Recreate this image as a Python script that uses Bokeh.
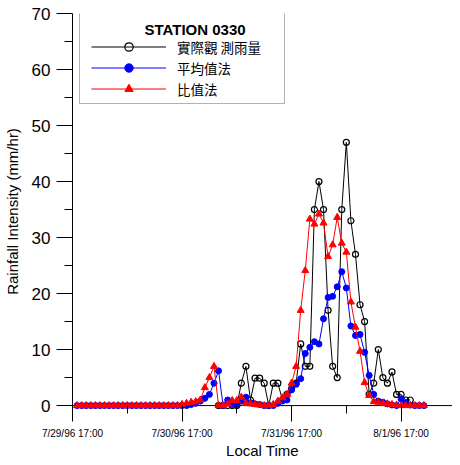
from bokeh.plotting import figure
from bokeh.models import (ColumnDataSource, Range1d, FixedTicker, Legend, LegendItem,
                          BoxAnnotation, Label, Span)
from bokeh.embed import file_html
from bokeh.resources import INLINE

# ---- data (hours after 7/29/96 17:00) ----
hours = list(range(1, 78))
ratio_method = [0]*23 + [
    0.2, 0.4, 0.6, 0.7, 1.0, 3.2, 5.0, 7.0, 0, 0,
    0.3, 0.9, 0.9, 1.5, 0.4, 0.3, 0.2, 0.1, 0, 0,
    0.2, 0.8, 1.4, 2.0, 4.0, 7.0, 17.0, 24.1, 33.3, 32.4,
    34.2, 32.6, 26.6, 28.7, 33.6, 29.0, 27.4, 18.5, 14.0, 9.7,
    4.1, 1.8, 0.7, 0.6, 0.4, 0.3, 0.2, 0.1, 0, 0,
    0, 0, 0, 0]
average_method = [0]*25 + [
    0.2, 0.4, 0.8, 1.3, 2.0, 4.0, 6.2, 0, 1.0, 0.2,
    0.2, 0.8, 1.5, 0.5, 0.3, 0.2, 0, 0, 0, 0.4,
    0.8, 1.0, 2.8, 3.8, 4.8, 9.3, 10.4, 11.4, 11.0, 15.5,
    19.3, 19.5, 21.2, 23.9, 21.0, 14.2, 12.5, 12.7, 9.5, 5.4,
    2.0, 0.8, 0.6, 0.3, 0.1, 0, 1.2, 0.5, 0.1, 0,
    0, 0]
obs_hours = list(range(32, 75))
observed = [
    0, 0, 0, 0, 0, 4.0, 7.0, 1.0, 4.9, 4.9,
    4.0, 0, 4.0, 4.0, 1.0, 2.0, 3.0, 4.0, 11.0, 7.0,
    7.0, 35.0, 40.0, 35.0, 17.0, 7.0, 5.0, 35.0, 47.0, 33.0,
    27.0, 18.0, 15.0, 2.0, 4.0, 10.0, 5.0, 4.0, 6.0, 2.0,
    2.0, 1.0, 1.0]

tick_hours = [0, 24, 48, 72]
tick_labels = ["7/29/96 17:00", "7/30/96 17:00", "7/31/96 17:00", "8/1/96 17:00"]
minor_hours = [12, 36, 60]
y_ticks = [0, 10, 20, 30, 40, 50, 60, 70]
y_minor = [5, 15, 25, 35, 45, 55, 65]

series_names = ["實際觀 測雨量", "平均值法", "比值法"]
title_text = "STATION  0330"
x_title = "Local Time"
y_title = "Rainfall Intensity (mm/hr)"

FONT = "Liberation Sans"
CJK = "Noto Sans CJK TC"

p = figure(width=452, height=462, output_backend="svg", toolbar_location=None,
           x_range=Range1d(0, 83.26), y_range=Range1d(-0.7, 70),
           min_border_left=62, min_border_right=0, min_border_top=13, min_border_bottom=53)
p.outline_line_color = None
p.grid.visible = False
p.background_fill_color = "white"

# x axis: line drawn at y = 0 by a span; ticks hang below it
xa = p.xaxis[0]
xa.ticker = FixedTicker(ticks=tick_hours, minor_ticks=minor_hours)
xa.major_label_overrides = {h: lab for h, lab in zip(tick_hours, tick_labels)}
xa.axis_line_color = None
xa.major_tick_in = 4
xa.major_tick_out = 12
xa.minor_tick_in = 4
xa.minor_tick_out = 4
xa.major_label_standoff = 6
xa.major_label_text_font = FONT
xa.major_label_text_font_size = "10px"
xa.major_label_text_color = "black"
xa.major_tick_line_color = "black"
xa.minor_tick_line_color = "black"
xa.axis_label = x_title
xa.axis_label_text_font = FONT
xa.axis_label_text_font_size = "15px"
xa.axis_label_text_font_style = "normal"
xa.axis_label_text_color = "black"
xa.axis_label_standoff = 0

zero_line = Span(location=0, dimension="width", line_color="black", line_width=1,
                 level="underlay")
p.add_layout(zero_line)

ya = p.yaxis[0]
ya.ticker = FixedTicker(ticks=y_ticks, minor_ticks=y_minor)
ya.major_tick_out = 16
ya.major_tick_in = 0
ya.minor_tick_out = 8
ya.minor_tick_in = 0
ya.major_label_standoff = 6
ya.major_label_text_font = FONT
ya.major_label_text_font_size = "17px"
ya.major_label_text_color = "black"
ya.axis_label = y_title
ya.axis_label_text_font = FONT
ya.axis_label_text_font_size = "15px"
ya.axis_label_text_font_style = "normal"
ya.axis_label_text_color = "black"
ya.axis_label_standoff = 8
ya.axis_line_color = "black"
ya.major_tick_line_color = "black"
ya.minor_tick_line_color = "black"

src_obs = ColumnDataSource(dict(x=obs_hours, y=observed))
src_avg = ColumnDataSource(dict(x=hours, y=average_method))
src_rat = ColumnDataSource(dict(x=hours, y=ratio_method))

l_obs = p.line("x", "y", source=src_obs, line_color="black", line_width=1)
m_obs = p.scatter("x", "y", source=src_obs, marker="circle", size=6,
                  line_color="black", line_width=1.2, fill_color=None)
l_avg = p.line("x", "y", source=src_avg, line_color="#0000FF", line_width=1)
m_avg = p.scatter("x", "y", source=src_avg, marker="circle", size=6,
                  line_color="#0000FF", fill_color="#0000FF")
l_rat = p.line("x", "y", source=src_rat, line_color="#FF0000", line_width=1)
m_rat = p.scatter("x", "y", source=src_rat, marker="triangle", size=7,
                  line_color="#FF0000", fill_color="#FF0000")

box = BoxAnnotation(left=7, right=212, bottom=306, top=397,
                    left_units="screen", right_units="screen",
                    bottom_units="screen", top_units="screen",
                    fill_color="white", fill_alpha=1, line_color="black", line_width=1)
p.add_layout(box)

legend = Legend(items=[
    LegendItem(label=series_names[0], renderers=[l_obs, m_obs]),
    LegendItem(label=series_names[1], renderers=[l_avg, m_avg]),
    LegendItem(label=series_names[2], renderers=[l_rat, m_rat]),
], location=(19, 310), glyph_width=75, glyph_height=21, label_height=21,
    spacing=0, padding=0,
    label_standoff=11, border_line_color=None, background_fill_alpha=0,
    label_text_font=CJK, label_text_font_size="13.5px", label_text_color="black")
p.add_layout(legend, "center")

title = Label(x=72, y=380, x_units="screen", y_units="screen", text=title_text,
              text_font=FONT, text_font_size="15px", text_font_style="bold",
              text_baseline="middle", text_align="left", text_color="black")
p.add_layout(title)

open("out.html", "w").write(file_html(p, INLINE))
